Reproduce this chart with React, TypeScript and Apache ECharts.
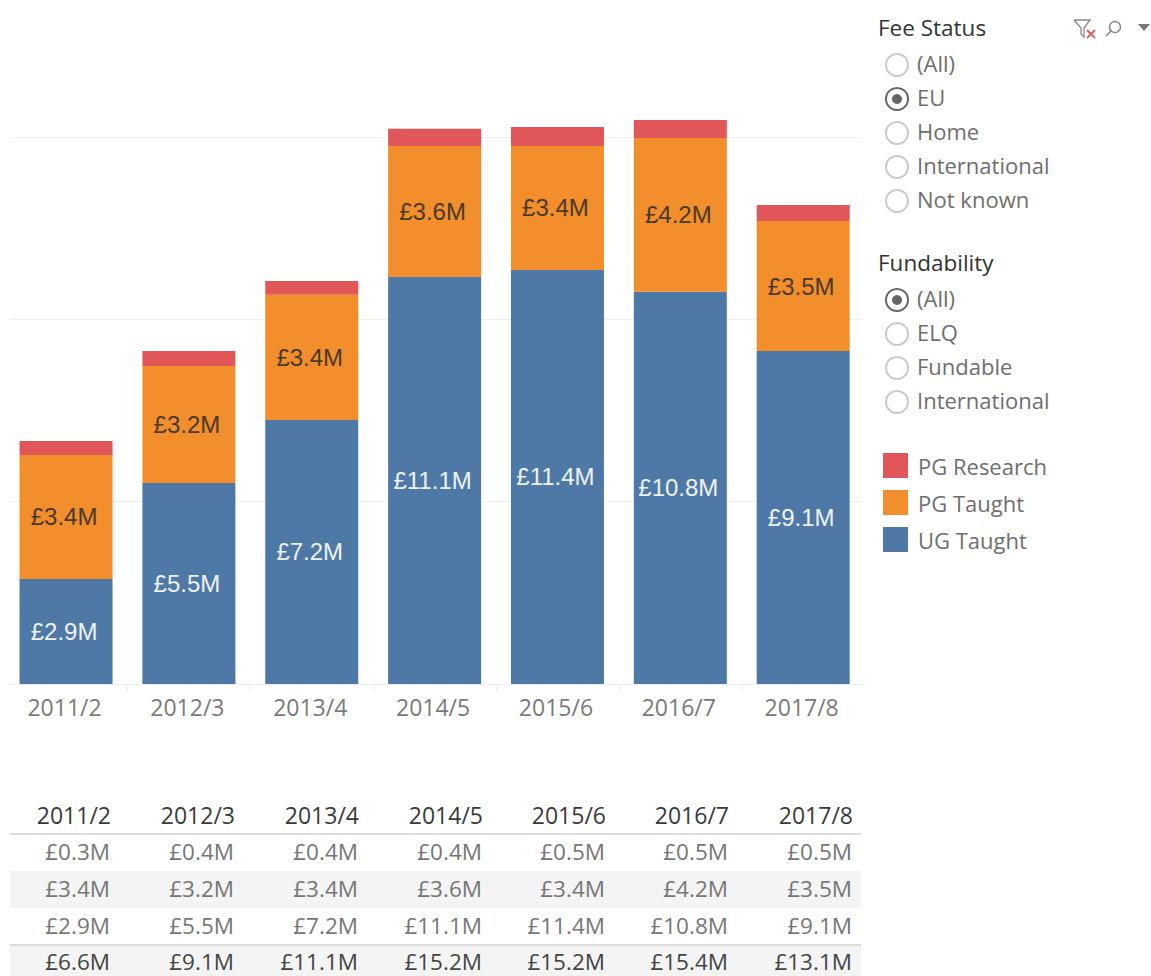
import React, { useEffect, useRef } from "react";
import * as echarts from "echarts";

const years = ["2011/2", "2012/3", "2013/4", "2014/5", "2015/6", "2016/7", "2017/8"];
const ugTaught = [2.88, 5.51, 7.24, 11.16, 11.35, 10.75, 9.13];
const pgTaught = [3.4, 3.21, 3.43, 3.59, 3.4, 4.22, 3.56];
const pgResearch = [0.38, 0.41, 0.38, 0.47, 0.52, 0.49, 0.44];
const ugLabels = ["£2.9M", "£5.5M", "£7.2M", "£11.1M", "£11.4M", "£10.8M", "£9.1M"];
const pgLabels = ["£3.4M", "£3.2M", "£3.4M", "£3.6M", "£3.4M", "£4.2M", "£3.5M"];
const rowResearch = ["£0.3M", "£0.4M", "£0.4M", "£0.4M", "£0.5M", "£0.5M", "£0.5M"];
const rowTotal = ["£6.6M", "£9.1M", "£11.1M", "£15.2M", "£15.2M", "£15.4M", "£13.1M"];
const feeOptions = ["(All)", "EU", "Home", "International", "Not known"];
const fundOptions = ["(All)", "ELQ", "Fundable", "International"];

const FONT = "'Open Sans', sans-serif";
const LABEL_FONT = "'Liberation Sans', Arial, sans-serif";
const colRight = [111, 235, 359, 483, 606, 729, 853];
const rowY = [851, 888, 925, 961.5];

function txt(x: number, y: number, text: string, fill: string, size: number, align = "left", weight: any = "normal") {
  return { type: "text", x, y, silent: true, z: 5, style: { text, fill, fontSize: size, lineHeight: size, fontFamily: FONT, fontWeight: weight, align, verticalAlign: "middle" } };
}

function radio(x: number, y: number, on: boolean) {
  const out: any[] = [
    { type: "circle", silent: true, z: 5, shape: { cx: x, cy: y, r: 11 }, style: { fill: "#fff", stroke: on ? "#666" : "#c9c9c9", lineWidth: 2 } },
  ];
  if (on) out.push({ type: "circle", silent: true, z: 5, shape: { cx: x, cy: y, r: 5 }, style: { fill: "#666" } });
  return out;
}

function buildGraphic() {
  const g: any[] = [];
  // hide the outermost category ticks, which the reference does not have
  g.push({ type: "rect", z: 9, silent: true, shape: { x: 0, y: 685, width: 9, height: 10 }, style: { fill: "#fff" } });
  g.push({ type: "rect", z: 9, silent: true, shape: { x: 862.5, y: 685, width: 6, height: 10 }, style: { fill: "#fff" } });
  g.push({ type: "rect", z: 1, silent: true, shape: { x: 10, y: 871, width: 851, height: 37 }, style: { fill: "#f4f4f4" } });
  g.push({ type: "rect", z: 1, silent: true, shape: { x: 10, y: 945, width: 851, height: 31 }, style: { fill: "#f4f4f4" } });
  g.push({ type: "rect", z: 2, silent: true, shape: { x: 10, y: 833, width: 851, height: 2 }, style: { fill: "#dcdcdc" } });
  g.push({ type: "rect", z: 2, silent: true, shape: { x: 10, y: 944, width: 851, height: 2 }, style: { fill: "#dcdcdc" } });
  years.forEach((y, i) => {
    g.push(txt(colRight[i], 815, y, "#3a3a3a", 23, "right"));
    g.push(txt(colRight[i] - 1, rowY[0], rowResearch[i], "#767676", 22.5, "right"));
    g.push(txt(colRight[i] - 1, rowY[1], pgLabels[i], "#767676", 22.5, "right"));
    g.push(txt(colRight[i] - 1, rowY[2], ugLabels[i], "#767676", 22.5, "right"));
    g.push(txt(colRight[i] - 1, rowY[3], rowTotal[i], "#444444", 22.5, "right"));
  });
  g.push(txt(878, 27, "Fee Status", "#333333", 22.5));
  feeOptions.forEach((o, i) => {
    const y = 63 + i * 34;
    g.push(...radio(897, y + 2, o === "EU"));
    g.push(txt(917, y, o, "#6e6e6e", 22));
  });
  g.push(txt(878, 262, "Fundability", "#333333", 22.5));
  fundOptions.forEach((o, i) => {
    const y = 298 + i * 34;
    g.push(...radio(897, y + 2, o === "(All)"));
    g.push(txt(917, y, o, "#6e6e6e", 22));
  });
  g.push({ type: "polyline", silent: true, shape: { points: [[1074, 20], [1090, 20], [1084, 28], [1084, 37], [1081, 34], [1081, 28], [1074, 20]] }, style: { stroke: "#888", fill: "none", lineWidth: 1.3 } });
  g.push({ type: "line", silent: true, shape: { x1: 1087, y1: 30, x2: 1095, y2: 38 }, style: { stroke: "#d9635f", lineWidth: 2 } });
  g.push({ type: "line", silent: true, shape: { x1: 1095, y1: 30, x2: 1087, y2: 38 }, style: { stroke: "#d9635f", lineWidth: 2 } });
  g.push({ type: "circle", silent: true, shape: { cx: 1115, cy: 27, r: 5.5 }, style: { stroke: "#888", fill: "none", lineWidth: 1.4 } });
  g.push({ type: "line", silent: true, shape: { x1: 1111, y1: 31, x2: 1106, y2: 36 }, style: { stroke: "#888", lineWidth: 1.6 } });
  g.push({ type: "polygon", silent: true, shape: { points: [[1138, 24], [1150, 24], [1144, 31]] }, style: { fill: "#777" } });
  return g;
}

export default function App() {
  const ref = useRef<HTMLDivElement>(null);
  useEffect(() => {
    const chart = echarts.init(ref.current!, undefined, { renderer: "svg" });
    const seriesCommon = { type: "bar", stack: "total", barWidth: 93, xAxisIndex: 0, yAxisIndex: 0 };
    chart.setOption({
      animation: false,
      backgroundColor: "#ffffff",
      legend: {
        orient: "vertical",
        left: 878,
        top: 448,
        itemWidth: 25,
        itemHeight: 25,
        itemGap: 12,
        icon: "rect",
        selectedMode: false,
        data: ["PG Research", "PG Taught", "UG Taught"],
        textStyle: { fontFamily: FONT, fontSize: 22, color: "#6e6e6e", padding: [0, 0, 0, 5] },
      },
      grid: [
        { left: 4.6, width: 860, top: 0, height: 684 },
        { left: 10, width: 852, top: 137, height: 547 },
      ],
      xAxis: [
        {
          gridIndex: 0,
          type: "category",
          data: years,
          axisLine: { show: false },
          axisTick: { show: true, length: 8, lineStyle: { color: "#efefef" } },
          axisLabel: { fontFamily: FONT, fontSize: 23, color: "#7a7a7a", margin: 11, padding: [0, 3, 0, 0] },
        },
        {
          gridIndex: 1,
          type: "value",
          min: 0,
          max: 1,
          axisLine: { show: true, lineStyle: { color: "#ececec" } },
          axisTick: { show: false },
          axisLabel: { show: false },
          splitLine: { show: false },
        },
      ],
      yAxis: [
        { gridIndex: 0, type: "value", min: 0, max: 18.75, axisLine: { show: false }, axisTick: { show: false }, axisLabel: { show: false }, splitLine: { show: false } },
        {
          gridIndex: 1,
          type: "value",
          min: 0,
          max: 15,
          interval: 5,
          axisLine: { show: false },
          axisTick: { show: false },
          axisLabel: { show: false },
          splitLine: { show: true, lineStyle: { color: "#f0f0f0", width: 1 } },
        },
      ],
      series: [
        {
          ...seriesCommon,
          name: "UG Taught",
          data: ugTaught,
          itemStyle: { color: "#4e79a7" },
          label: { show: true, position: "inside", offset: [-2, 0], formatter: (p: any) => ugLabels[p.dataIndex], color: "#eef2f6", fontFamily: LABEL_FONT, fontSize: 24 },
        },
        {
          ...seriesCommon,
          name: "PG Taught",
          data: pgTaught,
          itemStyle: { color: "#f28e2b" },
          label: { show: true, position: "inside", offset: [-2, 0], formatter: (p: any) => pgLabels[p.dataIndex], color: "#4a3a26", fontFamily: LABEL_FONT, fontSize: 24 },
        },
        {
          ...seriesCommon,
          name: "PG Research",
          data: pgResearch,
          itemStyle: { color: "#e15759" },
        },
      ],
      graphic: buildGraphic(),
    });
    return () => chart.dispose();
  }, []);
  return <div ref={ref} style={{ width: 1151, height: 976, position: "absolute", left: 0, top: 0 }} />;
}
